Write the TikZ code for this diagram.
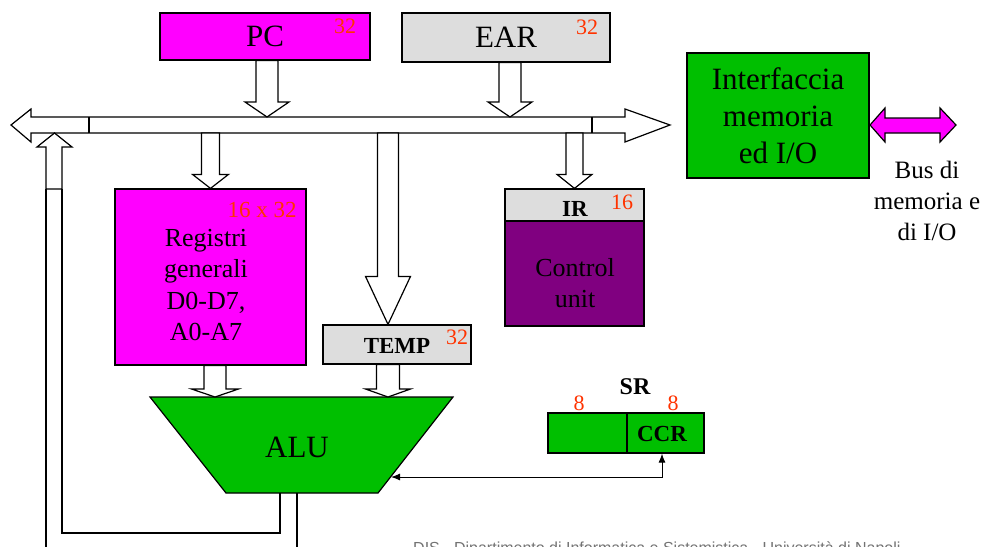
\documentclass[tikz,border=0pt]{standalone}
\usepackage{fontspec}
\setmainfont{Liberation Serif}
\setsansfont{Liberation Sans}
\usetikzlibrary{calc,arrows.meta}

\definecolor{regMagenta}{RGB}{255,0,255}
\definecolor{regGray}{RGB}{221,221,221}
\definecolor{unitGreen}{RGB}{0,191,0}
\definecolor{cuPurple}{RGB}{128,0,128}
\definecolor{sizeRed}{RGB}{255,51,0}

\newcommand\fs[2]{\fontsize{#1}{#2}\selectfont}

% hollow block arrow pointing down: shaft x and top from #1, tip height from #2,
% shaft half width #3, head half width #4, head length #5
\newcommand\fatdown[5]{%
  \path[fat] let \p1=#1, \p2=#2 in
    (\x1-#3pt,\y1) -- (\x1-#3pt,\y2+#5pt) -- (\x1-#4pt,\y2+#5pt) -- (\x1,\y2)
    -- (\x1+#4pt,\y2+#5pt) -- (\x1+#3pt,\y2+#5pt) -- (\x1+#3pt,\y1) -- cycle;}

\tikzset{
  blk/.style={draw=black, line width=1.2pt, inner sep=0pt, align=center},
  bits/.style={text=sizeRed, font=\fs{22}{22}, inner sep=0pt},
  lbl/.style={inner sep=0pt, align=center},
  boldlbl/.style={inner sep=0pt, font=\fs{23}{23}\bfseries},
  fat/.style={draw=black, line width=1.2pt, fill=white, line join=miter},
  wire/.style={draw=black, line width=1.4pt},
  ctlwire/.style={draw=black, line width=1pt,
    {Latex[length=9pt,width=7pt]}-{Latex[length=9pt,width=7pt]}},
}

\begin{document}
\begin{tikzpicture}[x=1pt,y=-1pt]
\useasboundingbox[fill=white] (0,0) rectangle (984,546);

% ---- registers on the top ----
\node[blk, fill=regMagenta, minimum width=210, minimum height=47, font=\fs{31}{31}] (pc) at (265,36.5) {PC};
\node[bits] (pcw) at (345,26) {32};
\node[blk, fill=regGray, minimum width=208, minimum height=49, font=\fs{31}{31}] (ear) at (506,37.5) {EAR};
\node[bits] (earw) at (587,27) {32};

% ---- memory / I/O interface ----
\node[blk, fill=unitGreen, minimum width=182, minimum height=125, font=\fs{31}{37}] (mem) at (778,115.5)
  {Interfaccia\\memoria\\ed I/O};
\node[lbl, font=\fs{25}{31}] (extbus) at (927,201) {Bus di\\memoria e\\di I/O};

% ---- internal bus ----
\coordinate (bt) at (0,117);
\coordinate (bb) at (0,133);
\draw[fat] (11,125) -- (31,109) -- (31,117) -- (625,117) -- (625,109) -- (670,125)
  -- (625,142) -- (625,133) -- (31,133) -- (31,142) -- cycle;
\draw[fat] (89,117) -- (89,133);
\draw[fat] (592,117) -- (592,133);

% external bus double arrow
\draw[draw=black, line width=1.2pt, fill=regMagenta] (870,125) -- (885,108) -- (885,118)
  -- (940,118) -- (940,108) -- (956,125) -- (940,142) -- (940,133) -- (885,133)
  -- (885,142) -- cycle;

% ---- register file ----
\node[blk, fill=regMagenta, minimum width=191, minimum height=176] (reg) at (210.5,277) {};
\node[bits, font=\fs{23}{23}] (regw) at (262,210) {16 x 32};
\node[lbl, font=\fs{26}{31.5}] (regtxt) at (206,285) {Registri\\generali\\D0-D7,\\A0-A7};

% ---- TEMP ----
\node[blk, fill=regGray, minimum width=148, minimum height=39] (temp) at (397,344.5) {};
\node[boldlbl] (temptxt) at (397,346) {TEMP};
\node[bits] (tempw) at (457,337) {32};

% ---- IR and control unit ----
\node[blk, fill=regGray, minimum width=139, minimum height=32] (ir) at (574.5,205) {};
\node[boldlbl] (irtxt) at (575,209) {IR};
\node[bits] (irw) at (622,202) {16};
\node[blk, fill=cuPurple, minimum width=139, minimum height=105] (cu) at (574.5,273.5) {};
\node[lbl, font=\fs{26}{31}] (cutxt) at (575,283) {Control\\unit};

% ---- status register ----
\node[blk, fill=unitGreen, minimum width=79, minimum height=40] (srl) at (587.5,433) {};
\node[blk, fill=unitGreen, minimum width=77, minimum height=40] (ccr) at (665.5,433) {};
\node[boldlbl] (ccrtxt) at (662,434) {CCR};
\node[boldlbl, font=\fs{24}{24}\bfseries] (srtxt) at (635,387) {SR};
\node[bits] (srw1) at (579,403) {8};
\node[bits] (srw2) at (673,403) {8};

% ---- ALU ----
\coordinate (alutl) at (150,397);
\coordinate (alutr) at (453,397);
\coordinate (alubr) at (378,493);
\coordinate (alubl) at (226,493);
\draw[draw=black, line width=1.2pt, fill=unitGreen] (alutl) -- (alutr) -- (alubr) -- (alubl) -- cycle;
\node[lbl, font=\fs{31}{31}] (alu) at (297,447) {ALU};

% ---- block arrows ----
\coordinate (tx) at (388,0);
\fatdown{($(pc.south)+(2,0)$)}{(bt)}{11}{22}{15}
\fatdown{($(ear.south)+(4,0)$)}{(bt)}{11}{22}{15}
\fatdown{(reg.north |- bb)}{(reg.north)}{9}{18}{14}
\fatdown{(ir.north |- bb)}{(ir.north)}{8.5}{17.5}{14}
\fatdown{(tx |- bb)}{(temp.north)}{10.5}{22.5}{48}
\fatdown{($(reg.south)+(4.5,0)$)}{(alutl)}{11}{23.5}{8}
\fatdown{(tx |- temp.south)}{(alutl)}{11.5}{22.5}{8}

% ALU result back to the bus
\coordinate (upl) at (46,189);
\coordinate (upr) at (62,189);
\draw[fat] (upl) -- (46,147) -- (37,147) -- (54.5,133) -- (72,147) -- (62,147) -- (upr) -- cycle;
\coordinate (out1) at (280,493);
\coordinate (out2) at (297,493);
\draw[wire] (upl) -- (46,550);
\draw[wire] (upr) |- (280,533) -- (out1);
\draw[wire] (out2) -- (297,550);

% condition codes to the ALU
\coordinate (aluin) at (391,477);
\draw[ctlwire] (aluin) -| ($(ccr.south)+(-3.5,0)$);

% footer line, running off the lower edge
\node[inner sep=0pt, anchor=base west, text=black!55, font=\sffamily\fs{16}{16}] (foot) at (413,553)
  {DIS - Dipartimento di Informatica e Sistemistica - Università di Napoli};
\end{tikzpicture}
\end{document}
